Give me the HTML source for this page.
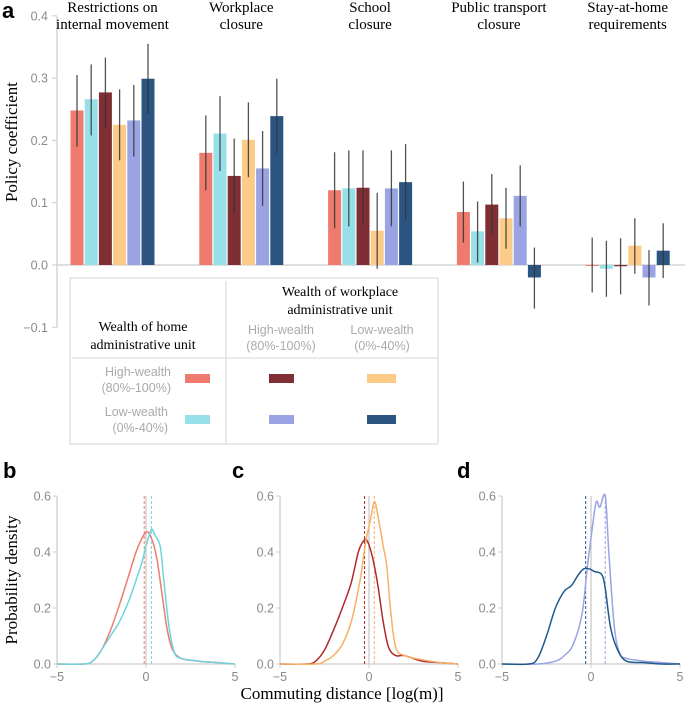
<!DOCTYPE html>
<html><head><meta charset="utf-8">
<style>
html,body{margin:0;padding:0;background:#fff;}
svg{display:block;font-family:"Liberation Sans",sans-serif;}
.serif{font-family:"Liberation Serif",serif;}
</style></head>
<body>
<svg id="chart" width="685" height="706" viewBox="0 0 685 706"></svg>
<script>
// ---- Panel a data ----
const policies = [["Restrictions on","internal movement"],["Workplace","closure"],["School","closure"],["Public transport","closure"],["Stay-at-home","requirements"]];
const seriesNames = ["home-high-work-self","home-low-work-self","home-high-work-high","home-high-work-low","home-low-work-high","home-low-work-low"];
const coefValues = [
 [0.248,0.266,0.277,0.225,0.232,0.299],
 [0.180,0.211,0.143,0.201,0.155,0.239],
 [0.120,0.123,0.124,0.055,0.123,0.133],
 [0.085,0.054,0.097,0.075,0.111,-0.020],
 [0.000,-0.006,-0.002,0.031,-0.020,0.023]];
const errLow = [
 [0.190,0.208,0.220,0.168,0.174,0.242],
 [0.120,0.151,0.083,0.141,0.095,0.179],
 [0.059,0.062,0.064,-0.006,0.062,0.073],
 [0.036,0.004,0.048,0.026,0.062,-0.070],
 [-0.044,-0.051,-0.047,-0.014,-0.065,-0.021]];
const errHigh = [
 [0.305,0.322,0.333,0.282,0.289,0.355],
 [0.240,0.271,0.203,0.261,0.215,0.299],
 [0.181,0.184,0.184,0.116,0.184,0.194],
 [0.134,0.102,0.146,0.124,0.160,0.028],
 [0.044,0.039,0.043,0.075,0.024,0.067]];
const yTicksA = [-0.1,0.0,0.1,0.2,0.3,0.4];
const yTickLabelsA = ["−0.1","0.0","0.1","0.2","0.3","0.4"];
const colors = ["#ee7b6e","#97e0ea","#7f2f33","#fccb88","#9aa3e4","#2b5580"];

// ---- Density data ----
const xTicksD = [-5,0,5];
const yTicksD = [0,0.2,0.4,0.6];
const yTickLabelsD = ["0.0","0.2","0.4","0.6"];
const bRedX = [-5,-3.5,-3,-2.5,-2,-1.5,-1,-0.5,0,0.3,0.6,0.9,1.2,1.5,2,3,4,5];
const bRedY = [0,0,0.01,0.05,0.12,0.21,0.31,0.41,0.47,0.45,0.38,0.25,0.12,0.05,0.02,0.01,0.005,0];
const bCyanX = [-5,-3.5,-3,-2.5,-2,-1.5,-1,-0.5,-0.2,0,0.3,0.5,0.8,1.0,1.3,1.6,2,3,4,5];
const bCyanY = [0,0,0.01,0.05,0.1,0.15,0.22,0.31,0.37,0.42,0.48,0.46,0.42,0.3,0.13,0.04,0.02,0.01,0.005,0];
const cRedX = [-5,-3.5,-3,-2.5,-2,-1.5,-1,-0.6,-0.3,-0.1,0.2,0.5,0.8,1.1,1.5,2,3,4,5];
const cRedY = [0,0,0.01,0.05,0.12,0.2,0.29,0.4,0.44,0.44,0.38,0.28,0.15,0.06,0.03,0.03,0.01,0.005,0];
const cOrangeX = [-5,-3,-2.5,-2,-1.5,-1,-0.5,-0.2,0.1,0.3,0.5,0.8,1.0,1.2,1.5,2,3,4,5];
const cOrangeY = [0,0,0.01,0.03,0.07,0.15,0.3,0.43,0.52,0.58,0.53,0.42,0.35,0.2,0.06,0.03,0.015,0.005,0];
const dBlueX = [-5,-3.5,-3,-2.5,-2,-1.5,-1.1,-0.7,-0.4,-0.1,0.2,0.6,0.8,1.1,1.5,2,3,4,5];
const dBlueY = [0,0,0.02,0.1,0.2,0.26,0.28,0.32,0.34,0.34,0.33,0.32,0.27,0.13,0.05,0.01,0.005,0,0];
const dPurpleX = [-5,-3,-2,-1.5,-1,-0.5,-0.2,0.1,0.3,0.5,0.8,1.0,1.3,1.6,2,3,4,5];
const dPurpleY = [0,0,0.01,0.03,0.07,0.18,0.35,0.5,0.58,0.56,0.6,0.4,0.14,0.04,0.02,0.01,0.005,0];
const medians = {b:[-0.1,0.3], c:[-0.25,0.3], d:[-0.3,0.8]};

const NS="http://www.w3.org/2000/svg";
const svg=document.getElementById('chart');
function mk(tag,attrs,parent){const e=document.createElementNS(NS,tag);for(const k in attrs)e.setAttribute(k,attrs[k]);(parent||svg).appendChild(e);return e;}
function txt(x,y,s,attrs,parent){const e=mk('text',Object.assign({x:x,y:y},attrs),parent);e.textContent=s;return e;}

// ---- Panel a ----
const A0=265, Aunit=623;
const ya=v=>A0-v*Aunit;
const groupX0=70.5, groupPitch=128.8, barPitch=14.2, barW=13;
const gA=mk('g',{});

const lbl=txt(2,18,"a",{'font-size':22,'font-weight':'bold'});

const ax=mk('line',{x1:57,y1:16,x2:57,y2:327,stroke:'#ccc','stroke-width':1.2},gA);

yTicksA.forEach((t,i)=>{
  const y=ya(t);
  const tk=mk('line',{x1:52,y1:y,x2:57,y2:y,stroke:'#ccc'},gA);
  
  const l=txt(48,y+4.5,yTickLabelsA[i],{'font-size':12.5,fill:'#8a8a8a','text-anchor':'end'},gA);
  
});
const zl=mk('line',{x1:57,y1:A0,x2:685,y2:A0,stroke:'#ccc','stroke-width':1.2},gA);

const yt=txt(0,0,"Policy coefficient",{'font-size':17,class:'serif','text-anchor':'middle',transform:'translate(17,142) rotate(-90)'},gA);

policies.forEach((p,g)=>{
  const gx=groupX0+g*groupPitch;
  const cx=gx+(5*barPitch+barW)/2;
  p.forEach((line,li)=>{
    const t=txt(cx,12+li*17,line,{'font-size':15,class:'serif','text-anchor':'middle'},gA);
    
  });
  coefValues[g].forEach((v,s)=>{
    const x=gx+s*barPitch;
    const y1=ya(Math.max(v,0)), y2=ya(Math.min(v,0));
    const r=mk('rect',{x:x,y:y1,width:barW,height:Math.max(y2-y1,1),fill:colors[s]},gA);
    
    
    const e=mk('line',{x1:x+barW/2,x2:x+barW/2,y1:ya(errHigh[g][s]),y2:ya(errLow[g][s]),stroke:'#333','stroke-width':1.3,'stroke-opacity':0.85},gA);
    
    
  });
});
// legend
const lg=mk('g',{});

mk('rect',{x:70,y:278,width:368,height:166,fill:'#fff',stroke:'#ddd','stroke-width':1.2},lg);
mk('line',{x1:226,y1:281,x2:226,y2:444,stroke:'#ddd','stroke-width':1.2},lg);
mk('line',{x1:72,y1:358,x2:438,y2:358,stroke:'#ddd','stroke-width':1.2},lg);
[["Wealth of workplace",340,296],["administrative unit",340,314],["Wealth of home",143,331],["administrative unit",143,349]].forEach(a=>{
  const t=txt(a[1],a[2],a[0],{'font-size':14,class:'serif','text-anchor':'middle'},lg);
  
});
[["High-wealth",281,334],["(80%-100%)",281,350],["Low-wealth",382,334],["(0%-40%)",382,350]].forEach(a=>{
  const t=txt(a[1],a[2],a[0],{'font-size':12.5,fill:'#aaa','text-anchor':'middle'},lg);
  
});
[["High-wealth",171,376],["(80%-100%)",171,392],["Low-wealth",168,416],["(0%-40%)",168,432]].forEach(a=>{
  const t=txt(a[1],a[2],a[0],{'font-size':12.5,fill:'#aaa','text-anchor':'end'},lg);
  
});
[[185,374,0],[185,415,1],[269,374,2],[367,374,3],[269,415,4],[367,415,5]].forEach(a=>{
  const r=mk('rect',{x:a[0],y:a[1],width:a[2]==3||a[2]==5?29:25,height:9,fill:colors[a[2]]},lg);
  
});

// ---- Density panels ----
function smoothPath(pts){
  let d='M'+pts[0][0]+','+pts[0][1];
  for(let i=0;i<pts.length-1;i++){
    const p0=pts[Math.max(i-1,0)],p1=pts[i],p2=pts[i+1],p3=pts[Math.min(i+2,pts.length-1)];
    const c1=[p1[0]+(p2[0]-p0[0])/6,p1[1]+(p2[1]-p0[1])/6];
    const c2=[p2[0]-(p3[0]-p1[0])/6,p2[1]-(p3[1]-p1[1])/6];
    d+=' C'+c1[0].toFixed(2)+','+c1[1].toFixed(2)+' '+c2[0].toFixed(2)+','+c2[1].toFixed(2)+' '+p2[0].toFixed(2)+','+p2[1].toFixed(2);
  }
  return d;
}
const panels=[
 {id:'b',x0:57,x1:235,lx:3,series:[[bRedX,bRedY,'#ee7b6e'],[bCyanX,bCyanY,'#6fd3dc']],med:medians.b,mc:['#ee7b6e','#6fd3dc']},
 {id:'c',x0:280,x1:458,lx:232,series:[[cRedX,cRedY,'#b0282d'],[cOrangeX,cOrangeY,'#f7b065']],med:medians.c,mc:['#b0282d','#f7b065']},
 {id:'d',x0:502,x1:680,lx:457,series:[[dPurpleX,dPurpleY,'#9aa3e4'],[dBlueX,dBlueY,'#1f5a8a']],med:medians.d,mc:['#1f5a8a','#9aa3e4']}];
const D0=664, Dunit=280;
panels.forEach((P,pi)=>{
  const g=mk('g',{});
  
  const xs=v=>P.x0+(v+5)/10*(P.x1-P.x0);
  const ys=v=>D0-v*Dunit;
  const pl=txt(P.lx,478,P.id,{'font-size':22,'font-weight':'bold'},g);
  
  const ya1=mk('line',{x1:P.x0,y1:ys(0.6),x2:P.x0,y2:D0,stroke:'#ccc','stroke-width':1.2},g);
  
  const xa=mk('line',{x1:P.x0,y1:D0,x2:P.x1,y2:D0,stroke:'#ccc','stroke-width':1.2},g);
  
  yTicksD.forEach((t,i)=>{
    const l=txt(P.x0-6,ys(t)+4.5,yTickLabelsD[i],{'font-size':12.5,fill:'#8a8a8a','text-anchor':'end'},g);
    
    mk('line',{x1:P.x0-4,x2:P.x0,y1:ys(t),y2:ys(t),stroke:'#ccc'},g);
  });
  xTicksD.forEach(t=>{
    mk('line',{x1:xs(t),x2:xs(t),y1:D0,y2:D0+4,stroke:'#ccc'},g);
    const l=txt(xs(t),D0+17,t<0?'−'+(-t):String(t),{'font-size':12.5,fill:'#8a8a8a','text-anchor':'middle'},g);
    
  });
  const zl=mk('line',{x1:xs(0),x2:xs(0),y1:ys(0.6),y2:D0,stroke:'#bbb','stroke-width':1},g);
  
  P.med.forEach((m,i)=>{
    const l=mk('line',{x1:xs(m),x2:xs(m),y1:ys(0.6),y2:D0,stroke:P.mc[i],'stroke-width':1,'stroke-dasharray':'3,2'},g);
    
  });
  P.series.forEach(s=>{
    const pts=s[0].map((x,i)=>[xs(x),ys(s[1][i])]);
    const p=mk('path',{d:smoothPath(pts),fill:'none',stroke:s[2],'stroke-width':1.5},g);
    
  });
});
const ydt=txt(0,0,"Probability density",{'font-size':17,class:'serif','text-anchor':'middle',transform:'translate(17,580) rotate(-90)'});

const xdt=txt(342,699,"Commuting distance [log(m)]",{'font-size':17,class:'serif','text-anchor':'middle'});

</script>
</body></html>
